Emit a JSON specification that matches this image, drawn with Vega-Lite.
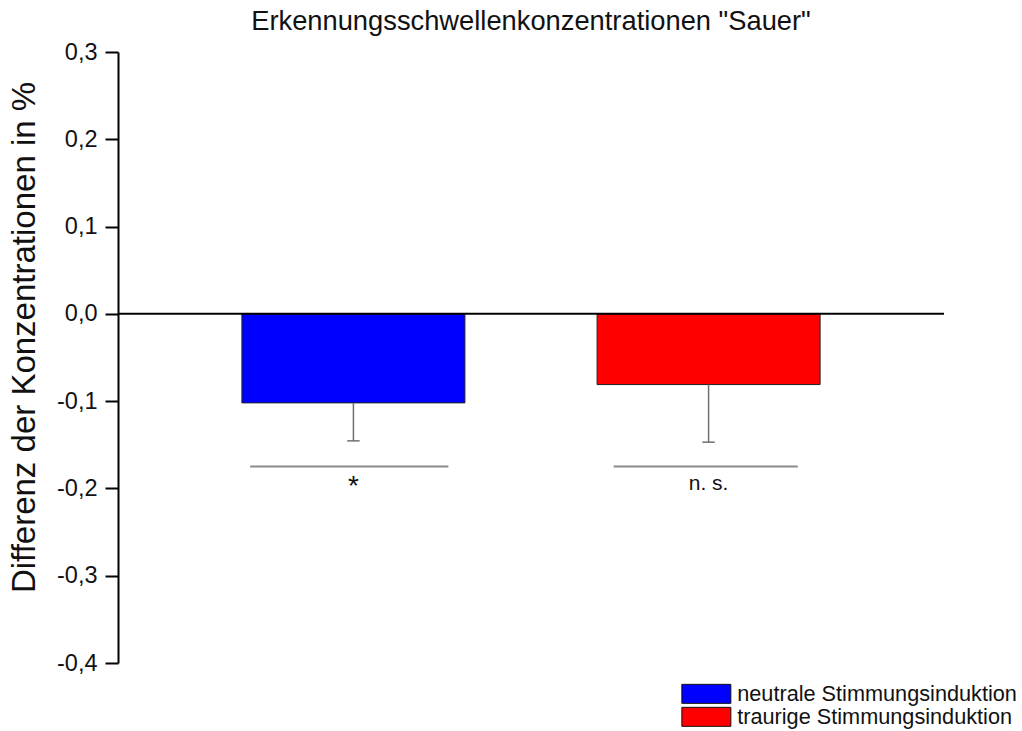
{
  "$schema": "https://vega.github.io/schema/vega-lite/v6.json",
  "width": 826,
  "height": 611,
  "autosize": {"type": "none"},
  "padding": {"left": 118, "top": 52, "right": 78, "bottom": 68},
  "background": "white",
  "title": {"text": "Erkennungsschwellenkonzentrationen \"Sauer\"", "fontSize": 27.3, "fontWeight": "normal", "font": "Liberation Sans", "color": "#111", "offset": 5, "anchor": "middle"},
  "config": {
    "view": {"stroke": null},
    "font": "Liberation Sans"
  },
  "data": {
    "values": [
      {"group": "neutrale Stimmungsinduktion", "x1": 15, "x2": 42, "mid": 28.5, "base": 0, "value": -0.102, "err": -0.1455, "capL": 27.75, "capR": 29.25, "sigL": 16, "sigR": 40, "sigY": -0.175, "sig": "*", "sigTextY": -0.207},
      {"group": "traurige Stimmungsinduktion", "x1": 58, "x2": 85, "mid": 71.5, "base": 0, "value": -0.081, "err": -0.147, "capL": 70.75, "capR": 72.25, "sigL": 60, "sigR": 82.3, "sigY": -0.175, "sig": "n. s.", "sigTextY": -0.195}
    ]
  },
  "layer": [
    {
      "mark": {"type": "bar", "stroke": "#222", "strokeWidth": 1, "opacity": 1},
      "encoding": {
        "x": {"field": "x1", "type": "quantitative", "scale": {"domain": [0, 100], "nice": false, "zero": false}, "axis": null},
        "x2": {"field": "x2"},
        "y": {"field": "base", "type": "quantitative", "scale": {"domain": [-0.4, 0.3], "nice": false, "zero": false},
          "axis": {
            "values": [-0.4, -0.3, -0.2, -0.1, 0, 0.1, 0.2, 0.3],
            "labelExpr": "replace(replace(format(datum.value, '.1f'), '.', ','), '−', '-')",
            "labelFontSize": 23.5, "labelColor": "#111", "labelPadding": 8,
            "tickSize": 13, "tickWidth": 2, "tickColor": "black",
            "domainColor": "black", "domainWidth": 2, "grid": false,
            "title": "Differenz der Konzentrationen in %", "titleFontSize": 33, "titleFontWeight": "normal", "titleColor": "#111",
            "titleX": -84, "titleY": 285, "titleAngle": -90, "titleAlign": "center", "titleBaseline": "alphabetic"
          }
        },
        "y2": {"field": "value"},
        "color": {"field": "group", "type": "nominal",
          "scale": {"domain": ["neutrale Stimmungsinduktion", "traurige Stimmungsinduktion"], "range": ["#0000FF", "#FF0000"]},
          "legend": {
            "orient": "none", "legendX": 577.5, "legendY": 631, "title": null,
            "symbolType": "M-2.45,-0.95H2.45V0.95H-2.45Z", "symbolSize": 400,
            "symbolStrokeColor": "#111", "symbolStrokeWidth": 1, "symbolOpacity": 1,
            "labelFontSize": 21.7, "labelColor": "#111", "labelOffset": 20, "labelLimit": 0, "rowPadding": -2, "padding": 0
          }
        }
      }
    },
    {
      "mark": {"type": "rule", "color": "#707070", "strokeWidth": 1.5},
      "encoding": {
        "x": {"field": "mid", "type": "quantitative"},
        "y": {"field": "value", "type": "quantitative"},
        "y2": {"field": "err"}
      }
    },
    {
      "mark": {"type": "rule", "color": "#707070", "strokeWidth": 1.5},
      "encoding": {
        "x": {"field": "capL", "type": "quantitative"},
        "x2": {"field": "capR"},
        "y": {"field": "err", "type": "quantitative"}
      }
    },
    {
      "mark": {"type": "rule", "color": "#8a8a8a", "strokeWidth": 2},
      "encoding": {
        "x": {"field": "sigL", "type": "quantitative"},
        "x2": {"field": "sigR"},
        "y": {"field": "sigY", "type": "quantitative"}
      }
    },
    {
      "transform": [{"filter": "datum.sig === '*'"}],
      "mark": {"type": "text", "fontSize": 28, "color": "#111", "baseline": "alphabetic", "align": "center"},
      "encoding": {
        "x": {"field": "mid", "type": "quantitative"},
        "y": {"field": "sigTextY", "type": "quantitative"},
        "text": {"field": "sig"}
      }
    },
    {
      "transform": [{"filter": "datum.sig !== '*'"}],
      "mark": {"type": "text", "fontSize": 21, "color": "#111", "baseline": "middle", "align": "center"},
      "encoding": {
        "x": {"field": "mid", "type": "quantitative"},
        "y": {"field": "sigTextY", "type": "quantitative"},
        "text": {"field": "sig"}
      }
    },
    {
      "data": {"values": [{"a": 0, "b": 100, "y": 0}]},
      "mark": {"type": "rule", "color": "black", "strokeWidth": 2},
      "encoding": {
        "x": {"field": "a", "type": "quantitative"},
        "x2": {"field": "b"},
        "y": {"field": "y", "type": "quantitative"}
      }
    }
  ]
}
